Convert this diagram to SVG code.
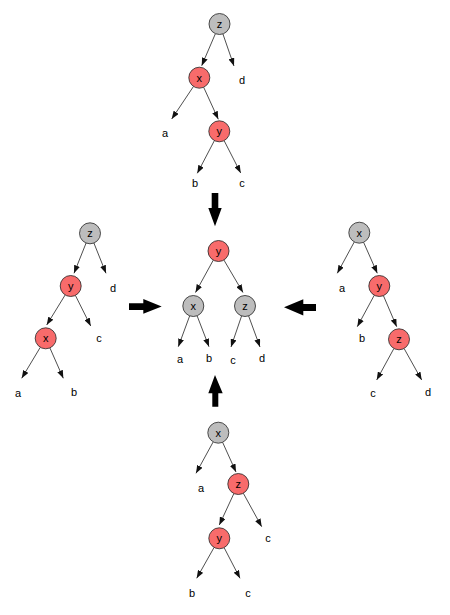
<svg xmlns="http://www.w3.org/2000/svg" width="450" height="615" viewBox="0 0 450 615">
<defs>
<style>
.red{fill:#F86B6B;stroke:#222;stroke-width:0.8}
.gray{fill:#BDBDBD;stroke:#222;stroke-width:0.8}
.nt{font-family:"Liberation Sans",Arial,sans-serif;font-size:11px;fill:#000;text-anchor:middle}
.lb{font-family:"Liberation Sans",Arial,sans-serif;font-size:11px;fill:#000;text-anchor:middle}
.e{stroke:#222;stroke-width:0.8;fill:none;marker-end:url(#ah)}
.big{fill:#000}
</style>
<marker id="ah" markerUnits="userSpaceOnUse" markerWidth="8" markerHeight="6" refX="8" refY="3" orient="auto">
<path d="M0,0 L8,3 L0,6 z" fill="#111"/>
</marker>
</defs>
<rect width="450" height="615" fill="#fff"/>
<g id="connectors">
<!-- top tree -->
<line class="e" x1="215.4" y1="33.7" x2="201.7" y2="65.7"/>
<line class="e" x1="222.9" y1="33.9" x2="234" y2="66"/>
<line class="e" x1="193.5" y1="86.4" x2="171.7" y2="119"/>
<line class="e" x1="203.7" y1="87.3" x2="218.3" y2="119.3"/>
<line class="e" x1="214.4" y1="140.6" x2="197.3" y2="173.3"/>
<line class="e" x1="224.1" y1="140.6" x2="240.7" y2="173"/>
<!-- center tree -->
<line class="e" x1="213.3" y1="260.1" x2="195.5" y2="292.5"/>
<line class="e" x1="223.9" y1="260" x2="243" y2="292.5"/>
<line class="e" x1="189.7" y1="315.8" x2="178.3" y2="346.7"/>
<line class="e" x1="197.1" y1="315.8" x2="209" y2="346.7"/>
<line class="e" x1="241.6" y1="315.9" x2="231" y2="347"/>
<line class="e" x1="248.6" y1="315.9" x2="260" y2="347"/>
<!-- left tree -->
<line class="e" x1="86.1" y1="243" x2="74" y2="273.3"/>
<line class="e" x1="93.9" y1="243" x2="106" y2="273.3"/>
<line class="e" x1="65.2" y1="294.9" x2="46.7" y2="325"/>
<line class="e" x1="75.4" y1="295.4" x2="90.7" y2="326"/>
<line class="e" x1="40.3" y1="347.3" x2="21.7" y2="378.3"/>
<line class="e" x1="49.9" y1="347.9" x2="63.3" y2="378.3"/>
<!-- right tree -->
<line class="e" x1="354.3" y1="241.9" x2="337.3" y2="273.3"/>
<line class="e" x1="363.6" y1="242.3" x2="377.3" y2="273.3"/>
<line class="e" x1="374.3" y1="295.2" x2="357.3" y2="326.7"/>
<line class="e" x1="383.4" y1="295.6" x2="396.7" y2="326.7"/>
<line class="e" x1="393.9" y1="348.5" x2="376.7" y2="380"/>
<line class="e" x1="404.1" y1="348.5" x2="421.7" y2="380"/>
<!-- bottom tree -->
<line class="e" x1="213.2" y1="441.9" x2="196" y2="473.3"/>
<line class="e" x1="222.6" y1="442.3" x2="236" y2="472"/>
<line class="e" x1="233.9" y1="493.5" x2="219.3" y2="525"/>
<line class="e" x1="243.3" y1="493.2" x2="261.7" y2="526.7"/>
<line class="e" x1="214.1" y1="547.4" x2="196.7" y2="578.3"/>
<line class="e" x1="224.1" y1="547.6" x2="240" y2="578.3"/>
<!-- big arrows -->
<polygon class="big" points="211.7,193 218.3,193 218.3,208 221.7,208 215,226.3 208.3,208 211.7,208"/>
<polygon class="big" points="215,375 222.7,393.3 218.3,393.3 218.3,406.7 212.3,406.7 212.3,393.3 208.3,393.3"/>
<polygon class="big" points="129,303.3 143.3,303.3 143.3,299 161.7,306.5 143.3,313.8 143.3,310 129,310"/>
<polygon class="big" points="284,307.3 303.3,299.3 303.3,304 316,304 316,311 303.3,311 303.3,315.5"/>
</g>
<!-- top tree nodes -->
<g id="top-z"><circle class="gray" cx="219.5" cy="24" r="10.5"/><text class="nt" x="219.5" y="28">z</text></g>
<g id="top-x"><circle class="red" cx="199.3" cy="77.7" r="10.5"/><text class="nt" x="199.3" y="81.7">x</text></g>
<g id="top-y"><circle class="red" cx="219.3" cy="131.3" r="10.5"/><text class="nt" x="219.3" y="135.3">y</text></g>
<g id="top-d"><text class="lb" x="242" y="84">d</text></g>
<g id="top-a"><text class="lb" x="165" y="137">a</text></g>
<g id="top-b"><text class="lb" x="195" y="187">b</text></g>
<g id="top-c"><text class="lb" x="242" y="187">c</text></g>
<!-- center tree -->
<g id="mid-y"><circle class="red" cx="218.5" cy="251" r="10.5"/><text class="nt" x="218.5" y="255">y</text></g>
<g id="mid-x"><circle class="gray" cx="193.3" cy="306" r="10.5"/><text class="nt" x="193.3" y="310">x</text></g>
<g id="mid-z"><circle class="gray" cx="245" cy="306" r="10.5"/><text class="nt" x="245" y="310">z</text></g>
<g id="mid-a"><text class="lb" x="180" y="363">a</text></g>
<g id="mid-b"><text class="lb" x="209" y="362">b</text></g>
<g id="mid-c"><text class="lb" x="233" y="364">c</text></g>
<g id="mid-d"><text class="lb" x="262" y="362">d</text></g>
<!-- left tree -->
<g id="left-z"><circle class="gray" cx="90" cy="233.3" r="10.5"/><text class="nt" x="90" y="237.3">z</text></g>
<g id="left-y"><circle class="red" cx="70.7" cy="286" r="10.5"/><text class="nt" x="70.7" y="290">y</text></g>
<g id="left-x"><circle class="red" cx="45.7" cy="338.3" r="10.5"/><text class="nt" x="45.7" y="342.3">x</text></g>
<g id="left-d"><text class="lb" x="113" y="292">d</text></g>
<g id="left-c"><text class="lb" x="99" y="342">c</text></g>
<g id="left-a"><text class="lb" x="18" y="397">a</text></g>
<g id="left-b"><text class="lb" x="74" y="396">b</text></g>
<!-- right tree -->
<g id="right-x"><circle class="gray" cx="359.3" cy="232.7" r="10.5"/><text class="nt" x="359.3" y="236.7">x</text></g>
<g id="right-y"><circle class="red" cx="379.3" cy="286" r="10.5"/><text class="nt" x="379.3" y="290">y</text></g>
<g id="right-z"><circle class="red" cx="399" cy="339.3" r="10.5"/><text class="nt" x="399" y="343.3">z</text></g>
<g id="right-a"><text class="lb" x="342" y="292">a</text></g>
<g id="right-b"><text class="lb" x="362" y="342">b</text></g>
<g id="right-c"><text class="lb" x="373" y="397">c</text></g>
<g id="right-d"><text class="lb" x="428" y="396">d</text></g>
<!-- bottom tree -->
<g id="bot-x"><circle class="gray" cx="218.3" cy="432.7" r="10.5"/><text class="nt" x="218.3" y="436.7">x</text></g>
<g id="bot-z"><circle class="red" cx="238.3" cy="484" r="10.5"/><text class="nt" x="238.3" y="488">z</text></g>
<g id="bot-y"><circle class="red" cx="219.3" cy="538.3" r="10.5"/><text class="nt" x="219.3" y="542.3">y</text></g>
<g id="bot-a"><text class="lb" x="201" y="492">a</text></g>
<g id="bot-c1"><text class="lb" x="268" y="542">c</text></g>
<g id="bot-b"><text class="lb" x="192" y="597">b</text></g>
<g id="bot-c2"><text class="lb" x="248" y="597">c</text></g>
</svg>
